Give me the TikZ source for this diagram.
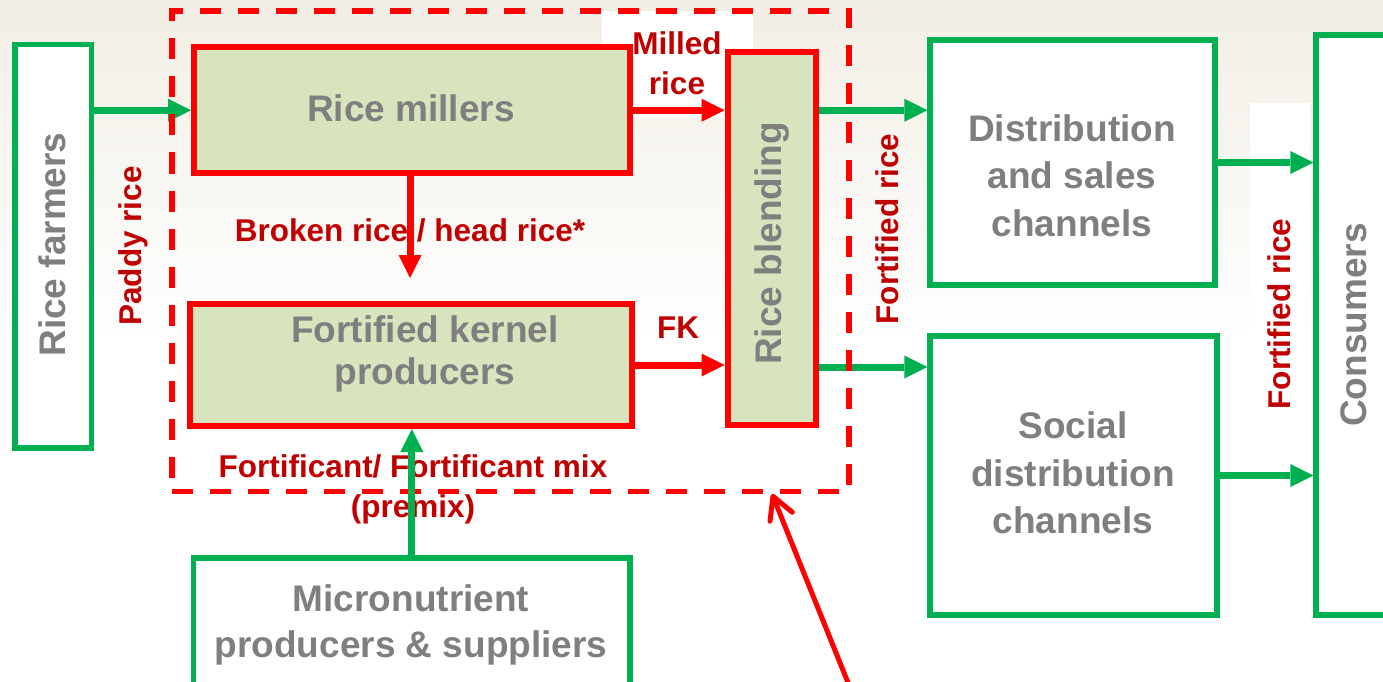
\documentclass[tikz,border=0pt]{standalone}
\usepackage{fontspec}
\setmainfont{Liberation Sans}
\usetikzlibrary{arrows.meta}
\definecolor{ggreen}{RGB}{0,176,80}
\definecolor{rred}{RGB}{255,0,0}
\definecolor{lred}{RGB}{192,0,0}
\definecolor{tgray}{RGB}{127,127,127}
\definecolor{boxfill}{RGB}{215,228,189}
\definecolor{bgbeige}{RGB}{242,238,229}
\begin{document}
\begin{tikzpicture}[x=1pt,y=-1pt,
  gbox/.style={draw=ggreen, line width=5.5pt, fill=white, inner sep=0pt, rectangle},
  rbox/.style={draw=rred, line width=6pt, fill=boxfill, inner sep=0pt, rectangle},
  boxtext/.style={text=tgray, font=\bfseries\fontsize{37}{47.5}\selectfont, align=center, inner sep=0pt},
  flowlabel/.style={text=lred, font=\bfseries\fontsize{31.5}{40}\selectfont, align=center, inner sep=0pt},
  gflow/.style={draw=ggreen, line width=7pt, -{Triangle[length=23pt,width=23pt,line width=0pt]}},
  rflow/.style={draw=rred, line width=7pt, -{Triangle[length=23pt,width=23pt,line width=0pt]}},
  pointer/.style={draw=rred, line width=5pt, line cap=round, -{Straight Barb[length=22pt,width=24pt,round]}},
  zone/.style={draw=rred, line width=5.5pt, dash pattern=on 21pt off 17pt, inner sep=0pt, rectangle}
]
\useasboundingbox (0,0) rectangle (1383,682);
\clip (0,0) rectangle (1383,682);
% background
\fill[white] (0,0) rectangle (1383,682);
\shade[top color=bgbeige, bottom color=white] (0,0) rectangle (1383,340);
\fill[white] (602,11) rectangle (753,118);
\fill[white] (1250,103) rectangle (1310,430);

% boxes
\node[gbox, minimum width=76.5pt, minimum height=403.5pt] (farmers) at (53.25,246.25) {};
\node[rbox, minimum width=436pt, minimum height=125.5pt] (millers) at (412,110.25) {};
\node[rbox, minimum width=442pt, minimum height=122pt] (fk) at (411,365) {};
\node[rbox, minimum width=88.5pt, minimum height=372.5pt] (blend) at (771.75,238.75) {};
\node[gbox, minimum width=285pt, minimum height=245pt] (dist) at (1072.5,162.5) {};
\node[gbox, minimum width=287pt, minimum height=279pt] (social) at (1073.5,475.5) {};
\node[gbox, minimum width=104pt, minimum height=580pt] (cons) at (1368,325) {};
\node[gbox, minimum width=436.5pt, minimum height=162pt] (micro) at (411.75,639) {};

% box texts
\node[boxtext, rotate=90] (tfarmers) at (52.5,244.5) {Rice farmers};
\node[boxtext] (tmillers) at (411,108.5) {Rice millers};
\node[boxtext, font=\bfseries\fontsize{37}{42}\selectfont] (tfk) at (425,354.4) {Fortified kernel\\producers};
\node[boxtext, rotate=90] (tblend) at (771.8,243.5) {Rice blending};
\node[boxtext] (tdist) at (1072,175.5) {Distribution\\and sales\\channels};
\node[boxtext] (tsocial) at (1073,473) {Social\\distribution\\channels};
\node[boxtext, rotate=90] (tcons) at (1353.5,325) {Consumers};
\node[boxtext, font=\bfseries\fontsize{37}{46}\selectfont] (tmicro) at (411,625.4) {Micronutrient\\producers \& suppliers};

% flows
\coordinate (brokenend) at (410,278);
\draw[gflow] (farmers.east |- millers.west) -- (millers.west);
\draw[rflow] (millers.east) -- (blend.west |- millers.east);
\draw[rflow] (millers.south -| brokenend) -- (brokenend);
\draw[rflow] (fk.east) -- (blend.west |- fk.east);
\draw[gflow] (blend.east |- millers.east) -- (dist.west |- millers.east);
\draw[gflow] ([yshift=-2pt]blend.east |- fk.east) -- ([yshift=-2pt]social.west |- fk.east);
\draw[gflow] (dist.east) -- (cons.west |- dist.east);
\draw[gflow] (social.east) -- (cons.west |- social.east);

% fortification zone
\node[zone, minimum width=677pt, minimum height=480.5pt] (zonebox) at (510.5,251.25) {};

% labels
\node[flowlabel, rotate=90] (lpaddy) at (133.7,246) {Paddy rice};
\node[flowlabel] (lmilled) at (677,63.5) {Milled\\rice};
\node[flowlabel, anchor=base] (lbroken) at (410,241) {Broken rice / head rice*};
\node[flowlabel, anchor=base] (lfk) at (678,338) {FK};
\node[flowlabel] (lfort) at (413,489.8) {Fortificant/ Fortificant mix\\(premix)};
\node[flowlabel, rotate=90] (lfr1) at (887.5,229) {Fortified rice};
\node[flowlabel, rotate=90] (lfr2) at (1279.5,314) {Fortified rice};

\draw[gflow] (micro.north) -- (fk.south -| micro.north);

% pointer
\coordinate (ptrbase) at (855,700);
\coordinate (ptrtip) at (772,494);
\draw[pointer] (ptrbase) -- (ptrtip);
\end{tikzpicture}
\end{document}
